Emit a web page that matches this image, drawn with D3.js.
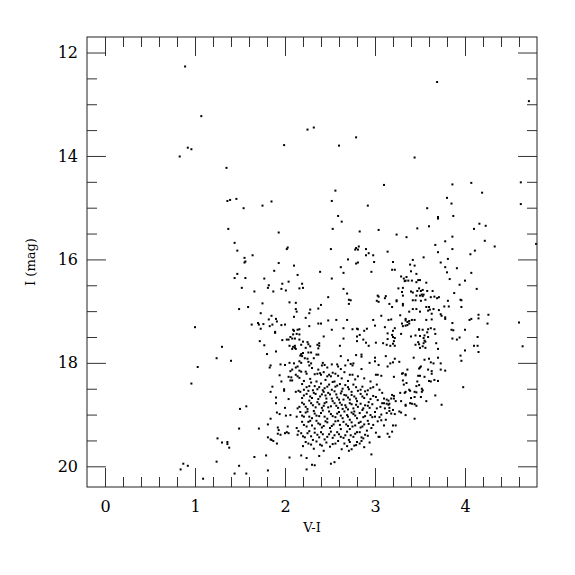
<!DOCTYPE html>
<meta charset="utf-8">
<head>
  <style>
    body { margin: 0; background: #fff; }
    .tick text { font-family: "DejaVu Serif", serif; font-size: 16px; fill: #000; }
    .tick line { stroke: #333; }
    .axis_label { font-family: "DejaVu Serif", serif; font-size: 13px; }
  </style>
</head>

<body>
  <script src="https://cdn.jsdelivr.net/npm/d3@7"></script>

  <script>
    // tick values
    var majorX = [0, 1, 2, 3, 4];
    var minorX = [0.2, 0.4, 0.6, 0.8, 1.2, 1.4, 1.6, 1.8, 2.2, 2.4, 2.6, 2.8, 3.2, 3.4, 3.6, 3.8, 4.2, 4.4, 4.6];
    var majorY = [12, 14, 16, 18, 20];
    var minorY = [12.5, 13, 13.5, 14.5, 15, 15.5, 16.5, 17, 17.5, 18.5, 19, 19.5];

    var sparseStars = [
      [0.89,12.27],[1.07,13.23],[0.92,13.84],[0.96,13.87],[0.83,14.01],[1.35,14.23],[1.36,14.87],[1.39,14.85],[1.46,14.83],[1.54,15.01],
      [3.69,12.57],[4.71,12.94],[3.44,14.03],[3.10,14.56],[3.86,14.55],[4.07,14.52],[4.19,14.71],[4.62,14.51],[3.80,14.81],[3.85,14.92],
      [4.62,14.93],[3.58,15.01],[3.70,15.18],[3.70,15.21],[3.87,15.16],
      [0.96,18.40],[1.50,18.89],[1.57,18.84],[1.49,19.27],[1.71,19.27],[1.25,19.46],[1.30,19.54],[1.36,19.53],[1.36,19.57],[1.38,19.64],
      [1.24,19.91],[1.66,19.82],[1.49,19.99],[0.87,19.95],[0.92,19.99],[0.84,20.06],[1.44,20.14],[1.57,20.14],[1.09,20.24],
      [2.25,13.49],[2.32,13.45],[2.79,13.64],[1.99,13.79],[2.60,13.80],[2.56,14.67],[2.52,14.87],[1.85,14.88],[1.75,14.96],[2.92,14.96],[2.59,15.16]
    ];

    var leftBranch = [
      [1.37,15.41],[1.44,15.68],[1.47,15.83],[1.64,15.92],[1.55,15.97],[1.55,16.06],[1.56,16.04],[1.47,16.28],[1.44,16.36],[1.56,16.36],
      [1.52,16.55],[1.66,16.62],[1.49,16.96],[1.59,16.92],[1.73,17.04],[1.00,17.31],[1.63,17.26],[1.70,17.23],[1.71,17.26],[1.73,17.34],
      [1.72,17.58],[1.30,17.69],[1.24,17.91],[1.40,17.96],[1.03,18.08]
    ];

    var middleStars = [
      [2.63,15.27],[2.53,15.41],[1.93,15.48],[2.83,15.46],[3.04,15.43],
      [2.03,15.77],[2.02,15.80],[2.51,15.80],[2.79,15.78],[2.82,15.75],[2.78,15.81],[2.81,15.81],[2.90,15.80],[2.93,15.88],[2.98,15.92],[2.90,15.92],
      [2.70,16.00],[1.93,16.07],[2.10,16.12],[2.79,16.08],[2.81,16.06],[2.99,16.05],[2.62,16.15],[1.88,16.22],[2.39,16.24],[2.65,16.26],[2.96,16.24],[2.14,16.30],[1.77,16.37],[2.52,16.37],
      [1.82,16.50],[1.81,16.55],[1.97,16.47],[2.04,16.43],[2.19,16.47],[1.96,16.57],[2.01,16.60],[2.16,16.56],[2.20,16.55],[1.87,16.62],[2.65,16.57],[2.69,16.66],[3.03,16.70],[3.04,16.72],
      [2.71,16.78],[2.73,16.79],[2.48,16.73],[2.05,16.83],[2.12,16.84],[3.02,16.80],[3.04,16.82],[2.71,16.86],[2.40,16.88],[1.75,16.85],
      [2.12,16.96],[2.13,17.01],[2.28,16.97],[2.27,17.04],[2.37,16.95],[2.10,17.11],[2.23,17.13],[1.85,17.09],[1.82,17.16],[1.90,17.15],[1.91,17.20],
      [2.57,17.17],[2.48,17.18],[2.69,17.17],[2.98,17.17],[3.00,17.28],[2.37,17.24],[2.40,17.24],[1.96,17.27],[2.00,17.26],[1.76,17.25],[1.86,17.26],[1.83,17.29],[2.27,17.29],
      [2.14,17.36],[2.10,17.38],[2.09,17.36],[2.16,17.35],[2.65,17.33],[2.52,17.36],[2.75,17.35],[2.80,17.34],[2.81,17.35],[2.88,17.38],[2.91,17.34],[1.89,17.40],[1.89,17.42],
      [2.09,17.45],[2.13,17.44],[2.16,17.45],[2.43,17.49],[2.06,17.50],[2.04,17.55],[2.08,17.53],[2.11,17.53],[2.83,17.46],[2.80,17.49],[1.97,17.56],[2.02,17.55],[2.16,17.55],
      [2.20,17.59],[2.25,17.60],[2.38,17.62],[2.36,17.65],[2.38,17.67],[2.37,17.72],[2.65,17.53],[2.80,17.58],[2.87,17.55],[2.90,17.61],[2.93,17.67],[3.01,17.61],
      [1.77,17.66],[2.05,17.67],[2.09,17.69],[2.11,17.67],[2.18,17.65],[2.26,17.64],[2.28,17.68],[2.08,17.73],[2.11,17.71],[2.12,17.73],[2.23,17.71],[2.61,17.67],
      [1.90,17.78],[2.20,17.81],[2.26,17.80],[2.29,17.80],[2.17,17.86],[2.19,17.87],[2.18,17.83],[2.35,17.84],[2.37,17.84],[2.79,17.85],[2.85,17.84],[2.85,17.88],
      [1.80,17.83],[2.62,17.87],[2.22,17.91],[2.25,17.92],[2.32,17.91],[2.70,17.95],[3.00,17.90],[3.00,17.97],
      [1.95,18.03],[2.00,18.04],[1.84,18.05],[1.83,18.09],[2.05,18.00],[2.10,18.01],[2.16,17.97],[2.18,18.00],[2.26,17.98],[2.29,18.01],[2.27,18.05],[2.12,18.09],[2.14,18.07],
      [2.42,18.00],[2.44,18.04],[2.41,18.05],[2.47,18.09],[2.52,18.03],[2.58,18.03],[2.59,18.07],[2.67,18.05],[2.73,18.02],[2.76,18.01],[2.75,18.05],[2.94,18.00],[3.04,18.04],
      [3.01,18.23],[3.03,18.23],[1.94,18.24],[2.06,18.16],[2.08,18.13],[2.16,18.15],[2.18,18.17],[2.12,18.23],[2.14,18.26],[2.16,18.29],[2.23,18.17],[2.24,18.21],
      [2.33,18.22],[2.36,18.21],[2.39,18.20],[2.40,18.23],[2.43,18.18],[2.47,18.26],[2.49,18.23],[2.51,18.26],[2.53,18.19],[2.56,18.21],[2.59,18.25],[2.66,18.18],
      [2.72,18.23],[2.75,18.23],[2.81,18.26],[2.04,18.27],
      [2.21,18.35],[2.28,18.31],[2.35,18.36],[2.45,18.33],[2.55,18.36],[2.63,18.30],[2.70,18.35],[2.78,18.32],[2.88,18.30],[2.95,18.36],
      [2.30,18.10],[2.37,18.13],[2.62,18.12],[2.85,18.12]
    ];

    var redStars = [
      [3.47,15.40],[3.60,15.36],[4.16,15.31],[4.23,15.35],[4.10,15.41],[3.24,15.52],[3.35,15.57],[3.86,15.56],[3.67,15.72],[3.78,15.65],[4.22,15.64],[4.33,15.75],
      [4.79,15.70],[3.14,15.85],[3.86,15.80],[3.70,15.86],[4.11,15.83],[4.06,15.90],[3.54,15.96],[3.81,15.99],
      [3.20,16.05],[3.39,16.10],[3.42,16.01],[3.44,16.12],[3.73,16.06],[3.91,16.17],[3.78,16.15],[3.19,16.20],[3.22,16.20],[3.40,16.23],[3.80,16.25],[4.07,16.26],
      [3.29,16.33],[3.35,16.34],[3.46,16.28],[3.32,16.37],[3.34,16.41],[3.37,16.41],[3.33,16.42],[3.41,16.41],[3.48,16.40],[3.50,16.40],[3.46,16.44],[3.83,16.38],
      [4.00,16.41],[3.57,16.45],[3.94,16.49],[4.13,16.57],[3.26,16.56],[3.31,16.55],[3.49,16.56],[3.51,16.61],[3.47,16.61],[3.53,16.59],[3.40,16.62],[3.42,16.64],
      [3.30,16.63],[3.58,16.61],[3.64,16.61],[3.88,16.65],
      [3.52,16.68],[3.54,16.68],[3.53,16.71],[3.50,16.70],[3.46,16.70],[3.31,16.70],[3.66,16.72],[3.69,16.75],[3.71,16.73],[3.62,16.73],[3.12,16.71],[3.11,16.75],
      [3.24,16.79],[3.24,16.81],[3.42,16.79],[3.45,16.79],[3.51,16.80],[3.56,16.78],[3.81,16.80],[3.95,16.78],[3.96,16.79],
      [3.16,16.86],[3.19,16.92],[3.31,16.86],[3.31,16.89],[3.77,16.91],[3.96,16.92],[3.57,16.92],[3.60,16.92],[3.61,16.97],[3.59,16.99],[3.65,16.96],[3.38,17.01],
      [3.42,16.96],[3.46,16.96],[3.50,17.01],[3.71,16.98],[3.82,16.91],[3.73,17.06],[3.74,17.09],[3.63,17.05],[3.07,17.09],[3.28,17.08],
      [3.15,17.17],[3.18,17.16],[3.34,17.15],[3.34,17.18],[3.38,17.19],[3.41,17.17],[3.44,17.17],[3.78,17.12],[3.78,17.15],[3.57,17.17],[3.63,17.16],[4.05,17.17],
      [4.07,17.15],[4.15,17.14],[4.15,17.07],[4.26,17.07],[4.25,17.24],[4.60,17.22],
      [3.30,17.24],[3.34,17.28],[3.31,17.29],[3.36,17.27],[3.38,17.24],[3.36,17.21],[3.49,17.35],[3.49,17.36],[3.86,17.23],[3.11,17.31],[3.22,17.33],[3.20,17.38],
      [3.14,17.43],[3.59,17.35],[3.62,17.33],[3.66,17.35],[3.53,17.36],[3.85,17.36],[3.87,17.37],[4.00,17.36],[3.58,17.41],[3.29,17.44],
      [3.40,17.49],[3.45,17.47],[3.50,17.48],[3.54,17.52],[3.55,17.47],[3.59,17.50],[3.19,17.46],[3.20,17.50],[3.22,17.52],[3.67,17.44],[3.86,17.53],[3.91,17.55],
      [3.94,17.51],[4.14,17.50],[3.14,17.54],[3.55,17.57],[3.54,17.62],[3.56,17.59],[3.68,17.62],[3.09,17.62],[3.21,17.58],[3.20,17.63],[3.22,17.67],[3.48,17.60],
      [3.49,17.64],[3.13,17.65],[3.17,17.67],[3.45,17.65],[3.53,17.68],[3.56,17.71],[3.50,17.71],[4.10,17.67],[4.14,17.67],[4.64,17.68],[3.70,17.73],[4.00,17.76],[4.15,17.79],
      [3.12,17.87],[3.22,17.92],[3.27,17.98],[3.20,17.99],[3.17,18.01],[3.43,17.90],[3.55,17.94],[3.60,17.92],[3.70,17.90],[3.95,17.86],[3.96,17.96],[3.62,17.99],
      [3.65,18.01],[3.73,18.01],[3.49,18.11],[3.50,18.09],[3.51,18.07],[3.36,18.13],[3.59,18.13],[3.63,18.16],[3.73,18.13],[3.78,18.15],[3.14,18.07],[3.31,18.20],
      [3.34,18.22],[3.30,18.21],[3.34,18.24],[3.48,18.25],[3.50,18.25],[3.55,18.27],[3.63,18.21],[3.21,18.27],[3.07,18.25],
      [3.98,18.47],[3.67,18.63],[3.74,18.81],[3.57,18.74],[3.44,19.08],[3.16,19.43],[3.14,19.37],[3.19,19.33],[3.20,19.21],[3.23,19.21],[3.10,19.21],[3.07,19.11],
      [3.12,19.10],[3.05,19.43],[3.11,18.88],[3.16,18.87],[3.20,18.91],[3.13,18.97],[3.16,18.93],[3.18,18.98],[3.22,18.99],[3.27,18.94],[3.29,18.96],[3.34,19.01],
      [3.08,18.78],[3.10,18.78],[3.13,18.79],[3.16,18.79],[3.15,18.81],[3.13,18.71],[3.15,18.73],[3.18,18.69],[3.19,18.62],[3.21,18.64],[3.21,18.69],[3.23,18.74],
      [3.08,18.58],[3.28,18.58],[3.33,18.58],[3.34,18.56],[3.38,18.52],[3.39,18.54],[3.32,18.42],[3.31,18.34],[3.34,18.81],[3.34,18.83],[3.39,18.78],[3.41,18.79],
      [3.44,18.80],[3.46,18.83],[3.40,18.68],[3.44,18.66],[3.51,18.66],[3.52,18.50],[3.53,18.53],[3.52,18.56],[3.44,18.56],[3.46,18.57],[3.46,18.45],[3.49,18.43],
      [3.35,18.39],[3.47,18.36],[3.60,18.35],[3.62,18.36],[3.66,18.33],[3.70,18.35],[3.29,18.74],[3.05,19.05]
    ];

    var clumpStars = [
      [1.96,18.36],[2.06,18.34],[2.07,18.28],[2.08,18.34],[1.86,18.46],[1.99,18.51],[1.99,18.54],[1.84,18.56],[1.90,18.67],[2.04,18.70],[2.12,18.56],[2.15,18.54],
      [1.90,18.78],[2.00,18.87],[2.14,18.88],[2.16,18.85],[1.91,18.96],[1.94,18.99],[2.01,19.02],[2.06,19.01],[2.13,19.04],[1.84,19.08],[1.81,19.19],[1.92,19.25],
      [1.93,19.30],[2.03,19.23],[2.00,19.36],[2.02,19.34],[2.04,19.36],[2.13,19.26],[2.15,19.32],[2.14,19.39],[1.92,19.37],[1.95,19.39],[1.81,19.44],[1.84,19.48],
      [1.85,19.49],[1.87,19.51],[1.91,19.56],[1.79,19.79],[2.05,19.83],[1.81,20.08],
      [2.19,18.41],[2.24,18.47],[2.29,18.38],[2.33,18.45],[2.36,18.51],[2.40,18.40],[2.44,18.49],[2.49,18.42],[2.53,18.37],[2.56,18.46],[2.61,18.41],[2.64,18.50],
      [2.17,18.56],[2.21,18.63],[2.26,18.54],[2.30,18.68],[2.34,18.60],[2.39,18.65],[2.43,18.56],[2.46,18.69],[2.50,18.61],[2.55,18.55],[2.58,18.67],[2.62,18.59],[2.65,18.71],
      [2.19,18.77],[2.23,18.85],[2.27,18.73],[2.31,18.82],[2.36,18.76],[2.41,18.87],[2.44,18.78],[2.48,18.86],[2.53,18.74],[2.57,18.83],[2.61,18.77],[2.64,18.89],
      [2.17,18.95],[2.21,19.04],[2.25,18.94],[2.30,19.07],[2.33,18.98],[2.38,19.03],[2.42,18.92],[2.47,19.08],[2.51,18.99],[2.56,19.05],[2.60,18.95],[2.64,19.07],
      [2.19,19.14],[2.24,19.23],[2.28,19.12],[2.33,19.27],[2.37,19.17],[2.41,19.25],[2.45,19.13],[2.50,19.26],[2.54,19.19],[2.59,19.12],[2.62,19.28],
      [2.18,19.36],[2.22,19.44],[2.27,19.32],[2.31,19.49],[2.36,19.39],[2.40,19.34],[2.44,19.48],[2.49,19.38],[2.53,19.45],[2.58,19.34],[2.62,19.43],
      [2.20,19.61],[2.26,19.56],[2.32,19.66],[2.39,19.58],[2.43,19.70],[2.50,19.62],[2.56,19.56],[2.63,19.67],
      [2.18,19.79],[2.24,19.84],[2.30,19.97],[2.33,19.98],[2.38,19.80],[2.51,19.95],[2.55,19.92],[2.60,19.84],[2.24,20.06],
      [2.67,18.43],[2.71,18.51],[2.76,18.42],[2.81,18.54],[2.86,18.46],[2.89,18.55],[2.95,18.49],[3.02,18.42],[3.05,18.52],
      [2.68,18.63],[2.72,18.71],[2.77,18.65],[2.80,18.74],[2.84,18.60],[2.88,18.68],[2.93,18.76],[2.98,18.64],[3.03,18.72],[3.10,18.69],
      [2.67,18.82],[2.70,18.90],[2.74,18.80],[2.77,18.94],[2.81,18.85],[2.86,18.91],[2.89,18.82],[2.94,18.87],[3.00,18.95],[3.06,18.85],
      [2.69,19.01],[2.72,19.10],[2.76,18.99],[2.80,19.07],[2.84,19.14],[2.89,19.03],[2.92,19.12],[2.97,19.05],[3.03,19.13],[3.07,19.00],
      [2.68,19.19],[2.72,19.28],[2.75,19.23],[2.80,19.34],[2.84,19.25],[2.88,19.19],[2.91,19.31],[2.96,19.26],[3.01,19.35],
      [2.67,19.40],[2.71,19.49],[2.76,19.43],[2.80,19.53],[2.85,19.44],[2.89,19.39],[2.94,19.54],[3.04,19.43],
      [2.69,19.61],[2.74,19.67],[2.79,19.59],[2.83,19.56],[2.88,19.63],[2.71,19.70],[2.96,19.77]
    ];

    // the packed core of the clump, between the stars above
    var clumpCore = [
      [2.21,18.52],[2.27,18.45],[2.31,18.53],[2.38,18.47],[2.42,18.53],[2.47,18.46],[2.52,18.52],[2.58,18.44],[2.63,18.55],[2.70,18.47],[2.74,18.56],[2.79,18.47],[2.84,18.52],[2.92,18.53],[2.98,18.47],
      [2.19,18.68],[2.24,18.60],[2.28,18.65],[2.32,18.58],[2.37,18.70],[2.41,18.61],[2.45,18.63],[2.48,18.58],[2.52,18.69],[2.57,18.61],[2.60,18.71],[2.66,18.62],[2.70,18.67],[2.74,18.62],[2.79,18.69],[2.86,18.65],[2.91,18.61],[2.95,18.70],[3.01,18.66],
      [2.21,18.80],[2.25,18.89],[2.29,18.78],[2.34,18.86],[2.38,18.80],[2.43,18.83],[2.46,18.76],[2.51,18.84],[2.55,18.78],[2.59,18.87],[2.63,18.81],[2.68,18.86],[2.72,18.78],[2.76,18.88],[2.79,18.81],[2.84,18.79],[2.87,18.88],[2.92,18.83],[2.97,18.80],[3.02,18.88],
      [2.19,19.02],[2.23,18.96],[2.27,19.04],[2.32,18.93],[2.35,19.02],[2.40,18.97],[2.44,19.04],[2.49,18.94],[2.53,19.03],[2.58,18.98],[2.62,19.02],[2.66,18.94],[2.70,19.04],[2.74,18.96],[2.78,19.02],[2.83,18.97],[2.87,19.05],[2.91,18.96],[2.95,19.01],[3.00,19.04],
      [2.21,19.20],[2.26,19.14],[2.30,19.21],[2.35,19.12],[2.39,19.19],[2.43,19.22],[2.47,19.15],[2.52,19.22],[2.56,19.13],[2.61,19.20],[2.65,19.14],[2.70,19.22],[2.74,19.15],[2.78,19.21],[2.82,19.16],[2.86,19.23],[2.93,19.18],[2.98,19.20],
      [2.20,19.42],[2.25,19.36],[2.29,19.42],[2.33,19.35],[2.38,19.44],[2.42,19.38],[2.47,19.43],[2.51,19.33],[2.55,19.40],[2.60,19.38],[2.65,19.45],[2.69,19.33],[2.73,19.40],[2.78,19.37],[2.83,19.34],[2.87,19.46],[2.92,19.41],
      [2.23,19.53],[2.29,19.58],[2.35,19.52],[2.41,19.60],[2.46,19.54],[2.53,19.57],[2.59,19.51],[2.66,19.56],[2.72,19.53],[2.77,19.60],[2.85,19.51]
    ];

    var stars = [].concat(sparseStars, leftBranch, middleStars, redStars, clumpStars, clumpCore);

    // margins, plot is 450 x 450
    var margin = {top: 37, right: 38, bottom: 88, left: 87};
    var width = 575 - margin.left - margin.right;
    var height = 575 - margin.top - margin.bottom;

    var xScale = d3.scaleLinear().domain([-0.2, 4.8]).range([0, width]);
    var yScale = d3.scaleLinear().domain([11.7, 20.4]).range([0, height]);

    var svg = d3.select("body").append("svg")
                .attr("width", width + margin.left + margin.right)
                .attr("height", height + margin.top + margin.bottom)
                .append("g")
                .attr("transform", "translate(" + margin.left + "," + margin.top + ")");

    // points
    svg.append("g")
      .selectAll("rect")
      .data(stars)
      .enter()
      .append("rect")
      .attr("x", function(d) { return xScale(d[0]) - 1; })
      .attr("y", function(d) { return yScale(d[1]) - 1; })
      .attr("width", 2)
      .attr("height", 2)
      .attr("fill", "#000");

    // axes - ticks point inward on all four sides
    function addAxis(axis, ticks, size, labels, transform) {
      var g = svg.append("g")
        .attr("class", "axis")
        .attr("transform", transform)
        .call(axis.tickValues(ticks).tickSize(-size).tickPadding(0)
              .tickFormat(labels ? d3.format("d") : ""));
      g.select(".domain").remove();
      return g;
    }

    addAxis(d3.axisBottom(xScale), majorX, 19, true, "translate(0," + height + ")")
      .selectAll("text").attr("y", 14);
    addAxis(d3.axisBottom(xScale), minorX, 10, false, "translate(0," + height + ")");
    addAxis(d3.axisTop(xScale), majorX, 19, false, "translate(0,0)");
    addAxis(d3.axisTop(xScale), minorX, 10, false, "translate(0,0)");
    addAxis(d3.axisLeft(yScale), majorY, 19, true, "translate(0,0)")
      .selectAll("text").attr("x", -9);
    addAxis(d3.axisLeft(yScale), minorY, 10, false, "translate(0,0)");
    addAxis(d3.axisRight(yScale), majorY, 19, false, "translate(" + width + ",0)");
    addAxis(d3.axisRight(yScale), minorY, 10, false, "translate(" + width + ",0)");

    // frame
    svg.append("rect")
      .attr("width", width)
      .attr("height", height)
      .attr("fill", "none")
      .attr("stroke", "#222");

    // axis titles
    svg.append("text")
      .attr("class", "axis_label")
      .attr("x", width / 2)
      .attr("y", height + 45)
      .attr("text-anchor", "middle")
      .text("V-I");

    svg.append("text")
      .attr("class", "axis_label")
      .attr("transform", "translate(-52," + (height / 2) + ") rotate(-90)")
      .attr("text-anchor", "middle")
      .text("I (mag)");
  </script>
</body>
